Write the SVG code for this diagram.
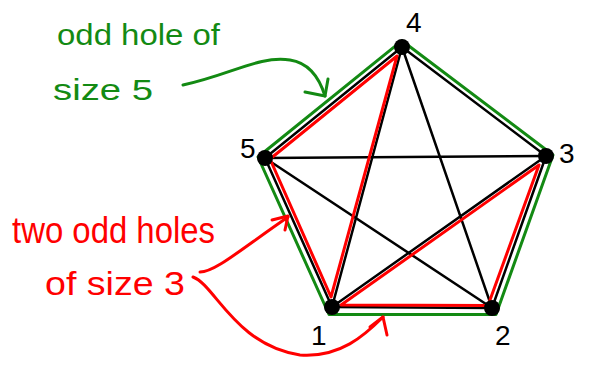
<svg xmlns="http://www.w3.org/2000/svg" width="589" height="370" viewBox="0 0 589 370">
<style>
.bk{stroke:#000;stroke-width:2.5;fill:none;stroke-linecap:round}
.gr{stroke:#138a13;stroke-width:3;fill:none;stroke-linecap:round;stroke-linejoin:round}
.rd{stroke:#f00;stroke-width:3;fill:none;stroke-linecap:round;stroke-linejoin:round}
.gt{fill:#138a13;font-family:"Liberation Sans",sans-serif}
.rt{fill:#f00;font-family:"Liberation Sans",sans-serif}
.nt{fill:#000;font-family:"Liberation Sans",sans-serif;font-size:28px}
</style>
<rect width="589" height="370" fill="#fff"/>
<g id="connectors">
<polygon class="gr" points="329,314.5 496,314.5 553,155 402,40.7 258,157"/>
<line class="bk" x1="332" y1="307" x2="492" y2="308"/>
<line class="bk" x1="492" y1="308" x2="546" y2="156"/>
<line class="bk" x1="546" y1="156" x2="402" y2="47"/>
<line class="bk" x1="402" y1="47" x2="265" y2="158"/>
<line class="bk" x1="265" y1="158" x2="332" y2="307"/>
<line class="bk" x1="332" y1="307" x2="546" y2="156"/>
<line class="bk" x1="332" y1="307" x2="402" y2="47"/>
<line class="bk" x1="492" y1="308" x2="402" y2="47"/>
<line class="bk" x1="492" y1="308" x2="265" y2="158"/>
<line class="bk" x1="546" y1="156" x2="265" y2="158"/>
<polygon class="rd" points="331,297 397,56 270,159"/>
<polygon class="rd" points="341,305 488,305.5 539,165"/>
<path class="gr" d="M183,85 C230,75 260,55 290,60 C310,63 320,80 325,96"/>
<path class="gr" d="M305,92 L325,96 L328,79"/>
<path class="rd" d="M200,272 C215,272 240,250 288,217"/>
<path class="rd" d="M272,220 L288,216 L285,230"/>
<path class="rd" d="M193,277 C215,285 235,345 300,355 C340,358 365,335 383,317"/>
<path class="rd" d="M370,327 L383,317 L387,335"/>
</g>
<g id="node1"><circle cx="332" cy="307" r="8"/><text class="nt" x="311" y="345">1</text></g>
<g id="node2"><circle cx="492" cy="308" r="8"/><text class="nt" x="495" y="345">2</text></g>
<g id="node3"><circle cx="546" cy="156" r="8"/><text class="nt" x="559" y="163">3</text></g>
<g id="node4"><circle cx="402" cy="47" r="8"/><text class="nt" x="406" y="32">4</text></g>
<g id="node5"><circle cx="265" cy="158" r="8"/><text class="nt" x="240" y="158">5</text></g>
<g id="label-green">
<text class="gt" x="57" y="45" font-size="29" textLength="163" lengthAdjust="spacingAndGlyphs">odd hole of</text>
<text class="gt" x="53" y="100" font-size="30" textLength="100" lengthAdjust="spacingAndGlyphs">size 5</text>
</g>
<g id="label-red">
<text class="rt" x="12" y="243" font-size="36" textLength="203" lengthAdjust="spacingAndGlyphs">two odd holes</text>
<text class="rt" x="45" y="295" font-size="34" textLength="140" lengthAdjust="spacingAndGlyphs">of size 3</text>
</g>
</svg>
